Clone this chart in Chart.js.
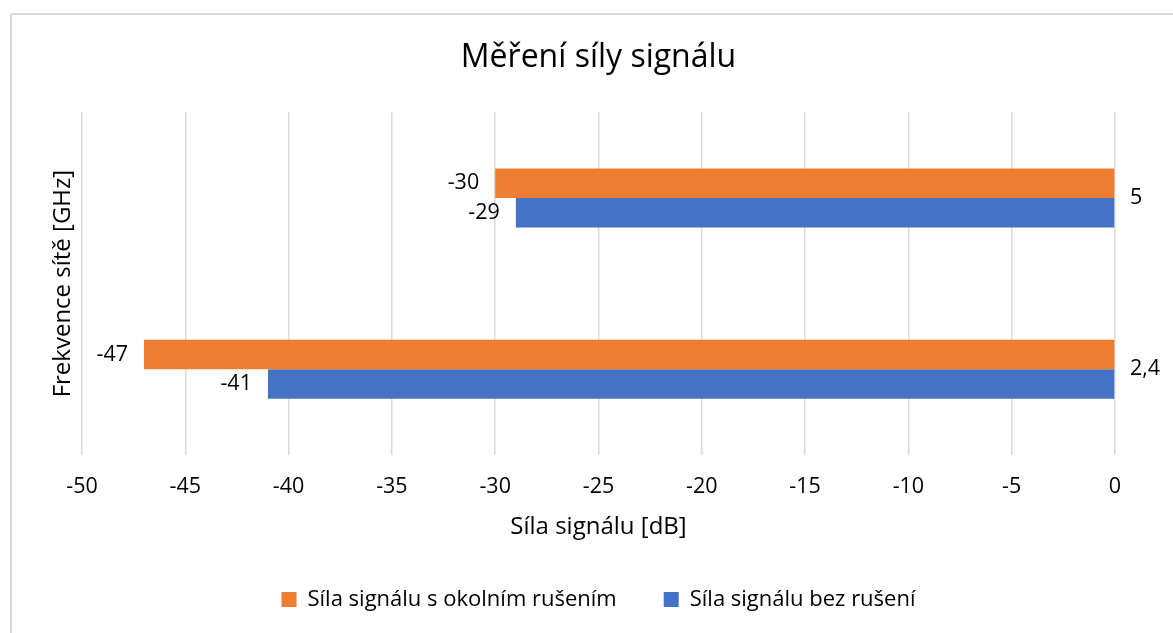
<!DOCTYPE html>
<html>
<head>
<meta charset="utf-8">
<script src="https://cdn.jsdelivr.net/npm/chart.js@4"></script>
<style>
  html, body { margin: 0; padding: 0; background: #ffffff; overflow: hidden; }
  #frame { position: absolute; left: 10px; top: 13px; width: 2000px; height: 2000px;
           border-left: 2px solid #d9d9d9; border-top: 2px solid #d9d9d9; }
  #c { position: absolute; left: 0; top: 0; }
</style>
</head>
<body>
<div id="frame"></div>
<canvas id="c" width="1173" height="633"></canvas>
<script>
const categories = ['5', '2,4'];
const seriesNames = ['Síla signálu s okolním rušením', 'Síla signálu bez rušení'];
const withInterference = [-30, -47];
const withoutInterference = [-29, -41];
const seriesColors = ['#ED7D31', '#4472C4'];
const chartTitle = 'Měření síly signálu';
const xTitle = 'Síla signálu [dB]';
const yTitle = 'Frekvence sítě [GHz]';

Chart.defaults.font.family = "'Open Sans', 'Noto Sans', sans-serif";
Chart.defaults.color = '#000000';

const valueLabels = {
  id: 'valueLabels',
  afterDatasetsDraw(chart) {
    const ctx = chart.ctx;
    ctx.save();
    ctx.font = "21.5px 'Open Sans'";
    ctx.fillStyle = '#000000';
    ctx.textAlign = 'right';
    ctx.textBaseline = 'middle';
    chart.data.datasets.forEach((ds, di) => {
      const meta = chart.getDatasetMeta(di);
      meta.data.forEach((bar, i) => {
        ctx.fillText(String(ds.data[i]), bar.x - 16, bar.y);
      });
    });
    ctx.restore();
  }
};

new Chart(document.getElementById('c'), {
  type: 'bar',
  data: {
    labels: categories,
    datasets: [
      { label: seriesNames[0], data: withInterference, backgroundColor: seriesColors[0],
        barPercentage: 1, categoryPercentage: 0.344 },
      { label: seriesNames[1], data: withoutInterference, backgroundColor: seriesColors[1],
        barPercentage: 1, categoryPercentage: 0.344 }
    ]
  },
  options: {
    indexAxis: 'y',
    responsive: false,
    animation: false,
    layout: { padding: { left: 0, right: 0, top: 0, bottom: 12.6 } },
    scales: {
      x: {
        type: 'linear',
        position: 'bottom',
        min: -50, max: 0,
        ticks: { stepSize: 5, padding: 19, font: { size: 21.5 }, color: '#000000' },
        grid: { color: '#d9d9d9', lineWidth: 1.5, drawTicks: false },
        border: { display: false },
        title: { display: true, text: xTitle, font: { size: 24 }, color: '#000000',
                 padding: { top: 0, bottom: 0 } },
        afterFit(scale) { scale.height = 86.4; }
      },
      y: {
        type: 'category',
        position: 'right',
        ticks: { padding: 15, font: { size: 21.5 }, color: '#000000' },
        grid: { display: false, drawTicks: false },
        border: { display: false },
        afterFit(scale) { scale.width = 58; }
      },
      y2: {
        type: 'linear',
        position: 'left',
        display: true,
        ticks: { display: false },
        grid: { display: false, drawTicks: false },
        border: { display: false },
        title: { display: true, text: yTitle, font: { size: 24 }, color: '#000000',
                 padding: { top: 49, bottom: 0 } },
        afterFit(scale) { scale.width = 82; }
      }
    },
    plugins: {
      title: {
        display: true, text: chartTitle, fullSize: false,
        font: { size: 32, weight: 'normal' }, color: '#000000',
        padding: { top: 38.8, bottom: 35 }
      },
      legend: {
        position: 'bottom', fullSize: false,
        labels: { boxWidth: 15, boxHeight: 15, padding: 47, font: { size: 22 }, color: '#000000' }
      },
      tooltip: { enabled: false }
    }
  },
  plugins: [valueLabels]
});
</script>
</body>
</html>
